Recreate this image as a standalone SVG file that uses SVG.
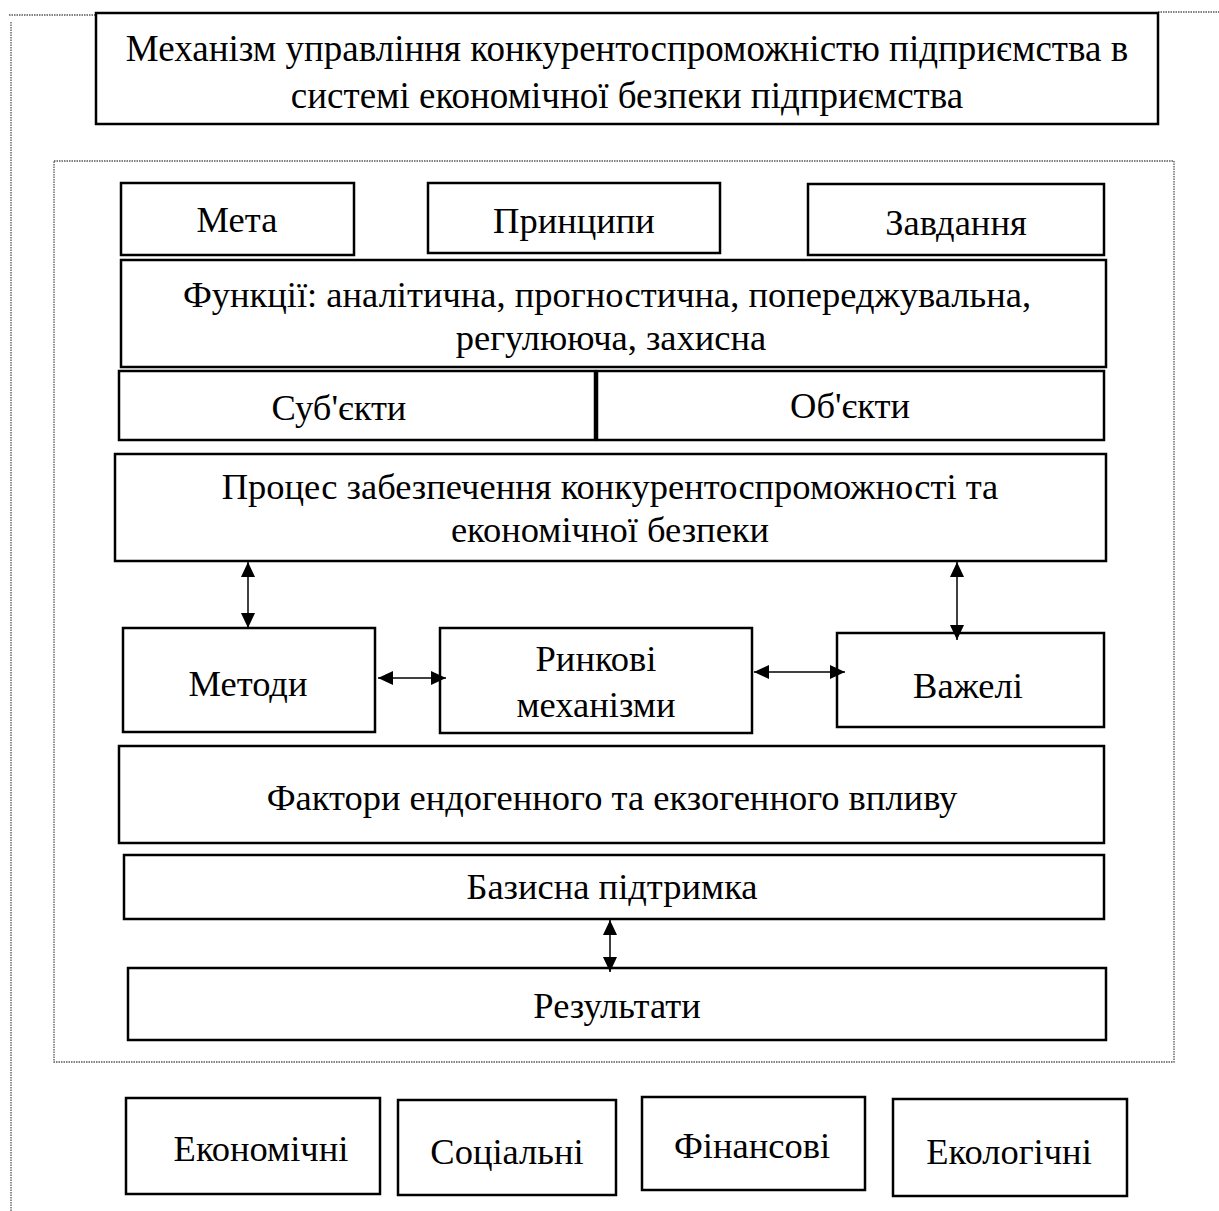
<svg xmlns="http://www.w3.org/2000/svg" width="1219" height="1211" viewBox="0 0 1219 1211">
<style>
.box{fill:#fff;stroke:#000;stroke-width:2.5}
.frame{fill:none;stroke:#555;stroke-width:1.3;stroke-dasharray:1.5 1}
text{font-family:"Liberation Serif","Times New Roman",serif;font-size:36.5px;fill:#000;text-anchor:middle}
.conn{stroke:#000;stroke-width:1.5;fill:none;marker-start:url(#ah);marker-end:url(#ah)}
</style>
<defs>
<marker id="ah" markerUnits="userSpaceOnUse" markerWidth="16" markerHeight="14" refX="15" refY="7" orient="auto-start-reverse">
<path d="M0,0 L15,7 L0,14 Z" fill="#000"/>
</marker>
</defs>
<g id="frames">
<path class="frame" d="M9,15 H96 M1158,12 H1219 M11,22 V1211"/>
<rect class="frame" x="54" y="161" width="1120" height="901"/>
</g>
<g id="title"><rect class="box" x="96" y="13" width="1062" height="111"/><text x="627" y="61" style="font-size:37px">Механізм управління конкурентоспроможністю підприємства в</text><text x="627" y="108" style="font-size:37px">системі економічної безпеки підприємства</text></g>
<g id="meta"><rect class="box" x="121" y="183" width="233" height="72"/><text x="237" y="232">Мета</text></g>
<g id="pryntsypy"><rect class="box" x="428" y="183" width="292" height="70"/><text x="574" y="233">Принципи</text></g>
<g id="zavdannia"><rect class="box" x="808" y="184" width="296" height="71"/><text x="956" y="235">Завдання</text></g>
<g id="funktsii"><rect class="box" x="121" y="260" width="985" height="107"/><text x="607" y="307">Функції: аналітична, прогностична, попереджувальна,</text><text x="611" y="350">регулююча, захисна</text></g>
<g id="subiekty"><rect class="box" x="119" y="371" width="476" height="69"/><text x="339" y="420">Суб'єкти</text></g>
<g id="obiekty"><rect class="box" x="597" y="371" width="507" height="69"/><text x="850" y="418">Об'єкти</text></g>
<g id="protses"><rect class="box" x="115" y="454" width="991" height="107"/><text x="610" y="499">Процес забезпечення конкурентоспроможності та</text><text x="610" y="542">економічної безпеки</text></g>
<g id="metody"><rect class="box" x="123" y="628" width="252" height="104"/><text x="248" y="696">Методи</text></g>
<g id="rynkovi"><rect class="box" x="440" y="628" width="312" height="105"/><text x="596" y="671">Ринкові</text><text x="596" y="717">механізми</text></g>
<g id="vazheli"><rect class="box" x="837" y="633" width="267" height="94"/><text x="968" y="698">Важелі</text></g>
<g id="faktory"><rect class="box" x="119" y="746" width="985" height="97"/><text x="612" y="810">Фактори ендогенного та екзогенного впливу</text></g>
<g id="bazysna"><rect class="box" x="124" y="855" width="980" height="64"/><text x="612" y="899">Базисна підтримка</text></g>
<g id="rezultaty"><rect class="box" x="128" y="968" width="978" height="72"/><text x="617" y="1018">Результати</text></g>
<g id="ekonomichni"><rect class="box" x="126" y="1098" width="254" height="96"/><text x="261" y="1161">Економічні</text></g>
<g id="sotsialni"><rect class="box" x="398" y="1100" width="218" height="95"/><text x="507" y="1164">Соціальні</text></g>
<g id="finansovi"><rect class="box" x="642" y="1097" width="223" height="93"/><text x="752" y="1158">Фінансові</text></g>
<g id="ekolohichni"><rect class="box" x="893" y="1099" width="234" height="97"/><text x="1009" y="1164">Екологічні</text></g>
<g id="connectors">
<line class="conn" x1="248" y1="562" x2="248" y2="628"/>
<line class="conn" x1="957" y1="562" x2="957" y2="640"/>
<line class="conn" x1="378" y1="678" x2="446" y2="678"/>
<line class="conn" x1="754" y1="672" x2="845" y2="672"/>
<line class="conn" x1="610" y1="920" x2="610" y2="972"/>
</g>
</svg>
